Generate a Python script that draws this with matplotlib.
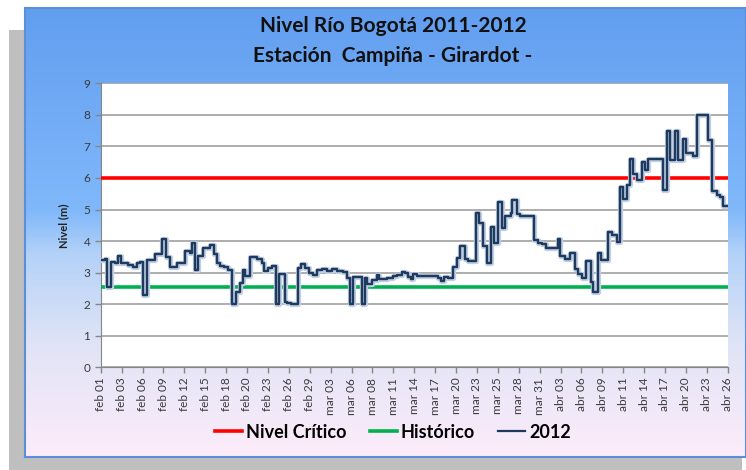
import numpy as np
import matplotlib
matplotlib.use("Agg")
import matplotlib.pyplot as plt
from matplotlib.patches import Rectangle
from matplotlib.lines import Line2D
import matplotlib.patheffects as pe

plt.rcParams['font.family'] = ['Lato', 'DejaVu Sans']

# ---------------- data ----------------
titulo_1 = "Nivel Río Bogotá 2011-2012"
titulo_2 = "Estación  Campiña - Girardot -"
etiquetas_x = ["feb 01", "feb 03", "feb 06", "feb 09", "feb 12", "feb 15", "feb 18",
               "feb 20", "feb 23", "feb 26", "feb 29", "mar 03", "mar 06", "mar 08",
               "mar 11", "mar 14", "mar 17", "mar 20", "mar 23", "mar 25", "mar 28",
               "mar 31", "abr 03", "abr 06", "abr 09", "abr 11", "abr 14", "abr 17",
               "abr 20", "abr 23", "abr 26"]
dias_totales = 85  # feb 01 -> abr 26

# days since feb 01 at which the 2012 level changes, and the level from then on
dias = [0.0, 0.58, 0.81, 1.36, 1.94, 2.39, 2.75, 3.74, 4.42, 4.96, 5.33, 5.77, 6.32,
        7.36, 8.35, 8.85, 9.39, 10.30, 11.43, 12.11, 12.42, 12.78, 13.23, 13.83, 14.82,
        15.36, 15.81, 16.17, 16.71, 17.30, 17.76, 18.30, 18.88, 19.25, 19.56, 20.24,
        20.69, 21.23, 21.83, 22.14, 22.72, 23.18, 23.76, 24.21, 24.98, 25.30, 25.76,
        26.79, 27.11, 27.70, 28.28, 28.82, 29.28, 29.96, 30.64, 31.31, 31.99, 32.81,
        33.43, 33.80, 34.24, 35.46, 35.83, 36.14, 36.74, 37.50, 37.77, 38.77, 39.67,
        40.13, 40.80, 41.25, 41.70, 42.06, 42.38, 42.84, 45.77, 46.13, 46.58, 47.04,
        47.80, 48.26, 48.71, 49.38, 49.83, 50.84, 51.28, 51.87, 52.33, 52.91, 53.36,
        53.82, 54.36, 54.81, 55.62, 55.80, 56.39, 56.84, 58.78, 59.32, 59.86, 60.32,
        61.95, 62.26, 62.94, 63.62, 64.30, 64.74, 65.25, 65.79, 66.42, 66.78, 67.37,
        67.78, 68.81, 69.27, 69.95, 70.40, 70.76, 71.30, 71.75, 72.20, 72.74, 73.34,
        73.79, 74.23, 76.27, 76.81, 77.18, 77.85, 78.30, 78.90, 79.34, 80.33, 80.79,
        82.28, 82.83, 83.51, 83.95, 84.40, 84.86]
nivel_2012 = [3.40, 3.43, 2.55, 3.35, 3.32, 3.54, 3.30, 3.24, 3.17, 3.32, 3.35, 2.29, 3.40,
              3.59, 4.07, 3.51, 3.19, 3.32, 3.68, 3.61, 3.95, 3.08, 3.53, 3.77, 3.88,
              3.59, 3.30, 3.21, 3.17, 3.08, 2.00, 2.38, 2.66, 3.08, 2.89, 3.51,
              3.49, 3.43, 3.30, 3.04, 3.15, 3.20, 2.00, 2.96, 2.08, 2.03, 2.00,
              3.15, 3.27, 3.15, 2.99, 2.94, 3.09, 3.11, 3.04, 3.11, 3.04, 3.02,
              2.83, 2.00, 2.85, 2.00, 2.83, 2.65, 2.78, 2.91, 2.80, 2.83, 2.89,
              2.94, 3.01, 2.98, 2.85, 2.79, 2.96, 2.89, 2.82, 2.75, 2.85, 2.82,
              3.19, 3.46, 3.85, 3.42, 3.38, 4.88, 4.57, 3.83, 3.30, 4.44, 3.95,
              5.23, 4.41, 4.80, 4.88, 5.31, 4.86, 4.78, 4.04, 3.95, 3.90, 3.77,
              4.06, 3.53, 3.43, 3.62, 3.12, 2.96, 2.84, 3.36, 2.70, 2.38, 3.62,
              3.40, 4.30, 4.20, 3.97, 5.72, 5.32, 5.79, 6.60, 6.14, 5.95, 6.51,
              6.24, 6.60, 5.61, 7.49, 6.58, 7.49, 6.58, 7.23, 6.79, 6.71, 8.00,
              7.19, 5.58, 5.47, 5.40, 5.11, 5.11]
nivel_critico = 6.0
historico = 2.55
series = ["Nivel Crítico", "Histórico", "2012"]
colores = ["#ff0000", "#00b050", "#1f3a5f"]

# ---------------- figure ----------------
W, H = 746, 470
fig = plt.figure(figsize=(W / 100, H / 100), dpi=100)
fig.patch.set_facecolor("white")

def fx(x):
    return x / W

def fy(y):
    return 1 - y / H

# gray shadow
fig.patches.append(Rectangle((fx(9), 0), fx(742) - fx(9), fy(30), transform=fig.transFigure,
                             facecolor="#bfbfbf", edgecolor="none", zorder=0))

# gradient chart box
bg = fig.add_axes([fx(25), fy(457), fx(746) - fx(25), fy(8) - fy(457)], zorder=1)
stops = np.array([0.0, 0.45, 0.55, 0.75, 1.0])
cols = np.array([[98, 158, 240], [128, 184, 250], [180, 210, 248], [224, 228, 246],
                 [253, 236, 250]]) / 255.0
t = np.linspace(0, 1, 300)
grad = np.stack([np.interp(t, stops, cols[:, k]) for k in range(3)], axis=1)
bg.imshow(grad[:, None, :], aspect="auto", extent=[0, 1, 0, 1], interpolation="bilinear")
bg.set_xticks([]); bg.set_yticks([])
for s in bg.spines.values():
    s.set_color("#5b8fd8"); s.set_linewidth(1.5)

# main plot
ax = fig.add_axes([fx(100.7), fy(367.3), fx(727.7) - fx(100.7), fy(83.3) - fy(367.3)], zorder=2)
ax.set_facecolor("white")
ax.set_xlim(0, dias_totales)
ax.set_ylim(0, 9)
ax.set_yticks(range(0, 10))
ax.yaxis.grid(True, color="#a0a0a0", linewidth=1.2)
ax.set_axisbelow(True)
ax.axhline(nivel_critico, color=colores[0], linewidth=2.6, zorder=3)
ax.axhline(historico, color=colores[1], linewidth=2.6, zorder=3)
ax.step(dias + [dias_totales - 0.1], nivel_2012 + [nivel_2012[-1]], where="post",
        color=colores[2], linewidth=1.6, zorder=4,
        path_effects=[pe.withStroke(linewidth=3.8, foreground="#c3d0e4"), pe.Normal()])

ax.set_xticks(np.linspace(0, dias_totales, len(etiquetas_x)))
ax.set_xticklabels(etiquetas_x, rotation=90, fontsize=8.5, color="#3a3a3a")
ax.tick_params(axis="y", labelsize=8.5, labelcolor="#3a3a3a")
ax.tick_params(direction="out", length=4, color="#868686", width=1)
for side in ["top", "right"]:
    ax.spines[side].set_visible(False)
for side in ["left", "bottom"]:
    ax.spines[side].set_color("#868686")
ax.set_ylabel("Nivel (m)", fontsize=8, fontweight="bold", color="#222222", labelpad=10)

fig.text(fx(393), fy(26), titulo_1, ha="center", va="center",
         fontsize=15, fontweight="bold", color="#111111", zorder=5)
fig.text(fx(393), fy(56), titulo_2, ha="center", va="center",
         fontsize=15, fontweight="bold", color="#111111", zorder=5)

handles = [Line2D([], [], color=colores[0], linewidth=2.6),
           Line2D([], [], color=colores[1], linewidth=2.6),
           Line2D([], [], color=colores[2], linewidth=1.6)]
leg = fig.legend(handles, series, loc="center", bbox_to_anchor=(fx(393), fy(432)), ncol=3,
                 frameon=False, prop={"size": 13, "weight": "bold"}, handlelength=1.5,
                 handletextpad=0.2, columnspacing=1.3)
leg.set_zorder(5)

fig.savefig("out.png", dpi=100)
